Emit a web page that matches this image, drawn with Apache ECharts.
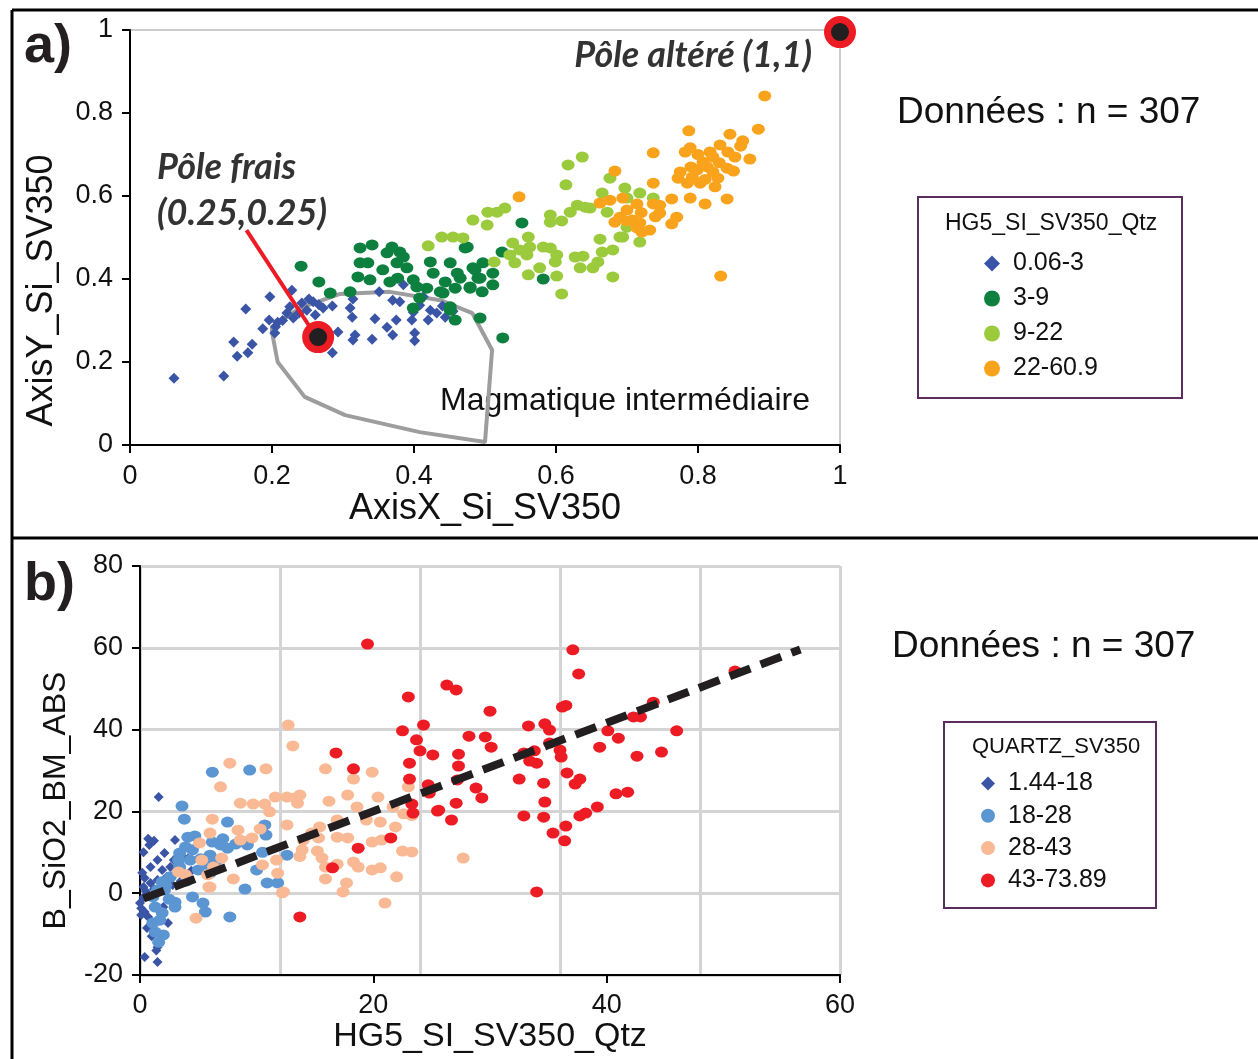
<!DOCTYPE html>
<html><head><meta charset="utf-8">
<script src="https://cdn.jsdelivr.net/npm/echarts@6/dist/echarts.min.js"></script>
<style>html,body{margin:0;padding:0;background:#fff}#c{width:1258px;height:1059px}</style>
</head><body><div id="c"></div>
<script>
// ---------- Panel a data (AxisX_Si_SV350, AxisY_Si_SV350) ----------
var aBlue = [[0.062,0.161],[0.132,0.166],[0.151,0.214],[0.166,0.222],[0.146,0.248],[0.172,0.243],[0.163,0.328],[0.197,0.357],[0.187,0.280],[0.196,0.301],[0.204,0.270],[0.208,0.296],[0.221,0.318],[0.228,0.373],[0.230,0.306],[0.242,0.342],[0.249,0.325],[0.258,0.345],[0.261,0.313],[0.272,0.330],[0.285,0.335],[0.293,0.272],[0.285,0.222],[0.310,0.330],[0.313,0.308],[0.314,0.352],[0.317,0.265],[0.314,0.253],[0.341,0.255],[0.345,0.304],[0.351,0.369],[0.362,0.284],[0.370,0.265],[0.375,0.301],[0.370,0.349],[0.385,0.386],[0.380,0.345],[0.399,0.320],[0.401,0.270],[0.401,0.251],[0.397,0.301],[0.408,0.337],[0.420,0.301],[0.423,0.325],[0.444,0.308],[0.413,0.357],[0.225,0.333],[0.238,0.318],[0.252,0.352],[0.266,0.338],[0.215,0.300],[0.205,0.285],[0.432,0.318],[0.455,0.322],[0.440,0.335]];
var aDarkGreen = [[0.241,0.431],[0.266,0.393],[0.282,0.366],[0.310,0.369],[0.321,0.405],[0.324,0.439],[0.335,0.439],[0.341,0.482],[0.338,0.398],[0.356,0.422],[0.362,0.463],[0.369,0.477],[0.376,0.439],[0.380,0.465],[0.385,0.453],[0.390,0.427],[0.377,0.402],[0.366,0.393],[0.399,0.398],[0.404,0.381],[0.418,0.378],[0.408,0.354],[0.399,0.330],[0.427,0.414],[0.423,0.441],[0.444,0.393],[0.451,0.439],[0.437,0.369],[0.451,0.333],[0.458,0.301],[0.458,0.378],[0.472,0.475],[0.479,0.381],[0.486,0.422],[0.493,0.402],[0.496,0.369],[0.497,0.439],[0.511,0.414],[0.511,0.386],[0.524,0.465],[0.493,0.306],[0.525,0.258],[0.465,0.402],[0.552,0.535],[0.475,0.477],[0.582,0.400],[0.461,0.414],[0.483,0.427],[0.490,0.402],[0.479,0.378],[0.441,0.366],[0.451,0.325],[0.324,0.475]];
var aLightGreen = [[0.637,0.694],[0.617,0.675],[0.614,0.627],[0.528,0.571],[0.504,0.561],[0.517,0.561],[0.483,0.542],[0.503,0.530],[0.439,0.501],[0.455,0.501],[0.469,0.499],[0.420,0.480],[0.513,0.441],[0.539,0.487],[0.561,0.501],[0.563,0.477],[0.549,0.470],[0.535,0.458],[0.542,0.439],[0.559,0.458],[0.582,0.477],[0.592,0.475],[0.601,0.458],[0.599,0.441],[0.577,0.427],[0.561,0.410],[0.601,0.407],[0.608,0.364],[0.627,0.453],[0.638,0.455],[0.634,0.427],[0.652,0.427],[0.659,0.441],[0.665,0.465],[0.680,0.470],[0.662,0.496],[0.680,0.405],[0.690,0.501],[0.592,0.554],[0.608,0.540],[0.620,0.561],[0.630,0.578],[0.641,0.573],[0.648,0.571],[0.665,0.607],[0.672,0.561],[0.676,0.643],[0.697,0.619],[0.700,0.595],[0.718,0.607],[0.737,0.595],[0.700,0.525],[0.718,0.489],[0.694,0.501],[0.592,0.537]];
var aOrange = [[0.894,0.841],[0.885,0.761],[0.787,0.757],[0.845,0.749],[0.863,0.733],[0.831,0.723],[0.789,0.716],[0.782,0.706],[0.737,0.704],[0.817,0.706],[0.821,0.694],[0.842,0.706],[0.852,0.694],[0.873,0.689],[0.807,0.682],[0.813,0.670],[0.841,0.667],[0.821,0.658],[0.799,0.663],[0.775,0.658],[0.772,0.643],[0.792,0.646],[0.785,0.631],[0.803,0.631],[0.824,0.622],[0.828,0.643],[0.737,0.631],[0.683,0.660],[0.789,0.595],[0.810,0.581],[0.841,0.593],[0.763,0.593],[0.770,0.549],[0.763,0.533],[0.737,0.581],[0.746,0.578],[0.746,0.559],[0.714,0.581],[0.694,0.595],[0.676,0.590],[0.662,0.583],[0.700,0.566],[0.690,0.549],[0.683,0.537],[0.708,0.542],[0.718,0.535],[0.714,0.523],[0.732,0.518],[0.721,0.513],[0.832,0.407],[0.548,0.598],[0.800,0.700],[0.830,0.680],[0.860,0.720],[0.810,0.640],[0.790,0.670],[0.850,0.660],[0.720,0.560],[0.740,0.550],[0.700,0.540]];
var aPoles = [[0.265,0.260],[1.0,0.995]];
var aArrow = [[0.164,0.518],[0.262,0.262]];
var aMagmaPolygon = [[0.200,0.272],[0.208,0.200],[0.246,0.116],[0.303,0.072],[0.408,0.031],[0.500,0.007],[0.510,0.229],[0.482,0.318],[0.437,0.349],[0.366,0.369],[0.296,0.364],[0.239,0.330],[0.200,0.285],[0.200,0.272]];
var aTicks = [0, 0.2, 0.4, 0.6, 0.8, 1];
var aLegendNames = ['0.06-3','3-9','9-22','22-60.9'];

// ---------- Panel b data (HG5_SI_SV350_Qtz, B_SiO2_BM_ABS) ----------
var bDarkBlue = [[1.6,23.5],[0.7,13.3],[0.8,11.8],[3.0,13.0],[2.1,9.8],[1.5,8.1],[0.9,6.4],[0.2,5.0],[1.9,5.7],[2.6,6.4],[2.9,8.1],[3.7,8.8],[4.1,8.5],[3.2,5.7],[0.4,3.7],[0.9,2.5],[0.3,1.5],[1.5,3.2],[2.3,4.0],[0.0,-2.4],[0.4,-4.6],[0.1,-5.3],[0.7,-5.8],[2.0,-3.4],[2.4,-7.3],[1.5,-13.2],[1.4,-14.0],[0.4,-15.6],[1.5,-16.8],[0.1,-3.7],[0.5,0.5],[1.2,1.0],[2.8,2.0],[3.5,3.0],[0.6,-8.5],[1.0,-10.5],[0.3,-1.0],[2.2,1.8],[4.4,5.5],[0.3,10.0],[1.2,12.8]];
var bBlue = [[6.2,29.6],[9.4,30.1],[3.6,21.3],[3.8,18.1],[7.5,17.4],[10.7,16.7],[10.8,14.2],[4.1,13.7],[4.7,14.0],[6.2,12.5],[7.1,13.3],[6.9,11.8],[7.5,11.0],[9.0,12.5],[9.2,11.8],[3.9,11.3],[4.5,10.6],[3.4,9.8],[3.3,8.1],[4.3,8.1],[5.2,8.4],[6.0,9.3],[6.6,8.1],[10.5,10.0],[12.6,9.3],[3.4,6.4],[2.6,4.0],[1.9,2.8],[2.1,0.8],[1.5,0.8],[1.1,-0.9],[1.3,-3.4],[1.9,-4.8],[1.7,-6.6],[1.1,-7.3],[1.3,-9.5],[2.0,-10.2],[3.0,-2.2],[3.0,-3.4],[4.5,-0.9],[5.4,-2.4],[5.6,-4.6],[7.7,-5.8],[9.0,1.0],[10.0,5.7],[10.9,2.5],[11.8,2.5],[6.0,4.9],[5.0,5.7],[5.7,7.2],[2.5,-1.5],[1.6,-12.0],[2.2,2.0],[4.0,3.0],[8.2,12.0]];
var bPeach = [[7.7,31.8],[6.9,26.0],[10.8,30.4],[12.7,41.1],[13.1,36.0],[8.6,22.0],[9.7,21.8],[10.7,21.8],[11.1,19.9],[11.6,23.5],[12.6,23.5],[13.3,23.3],[13.7,24.0],[13.5,22.0],[6.2,18.1],[8.4,15.4],[8.6,13.0],[6.0,14.7],[5.1,12.3],[9.6,13.5],[10.3,15.7],[12.6,16.7],[5.3,8.1],[7.0,8.6],[8.0,3.5],[5.9,1.5],[11.7,8.1],[11.8,4.9],[12.3,0.3],[15.9,30.4],[18.3,27.9],[17.8,24.0],[19.9,29.6],[20.4,23.5],[18.6,21.1],[16.2,22.5],[16.9,17.9],[15.4,16.2],[14.7,14.7],[15.3,13.5],[16.9,13.7],[17.8,13.5],[19.4,17.9],[20.6,17.4],[21.7,21.1],[22.6,19.4],[21.9,16.2],[19.9,12.5],[20.7,13.0],[15.2,10.3],[15.6,8.6],[15.9,6.4],[16.9,7.1],[18.3,7.6],[18.7,6.4],[19.9,5.7],[20.6,6.2],[22.5,10.3],[23.3,10.1],[22.0,4.0],[15.9,3.5],[17.7,2.5],[17.4,0.3],[13.9,10.6],[21.0,-2.4],[4.8,-6.1],[3.9,4.5],[6.3,6.4],[6.0,1.5],[5.8,4.5],[12.2,0.1],[3.3,5.2],[10.5,6.9],[14.0,13.0],[23.0,26.0],[23.3,19.0],[13.7,9.0],[27.7,8.6]];
var bRed = [[19.5,60.9],[23.0,48.0],[24.3,41.1],[22.5,39.7],[23.7,37.5],[24.0,34.8],[25.1,33.8],[23.1,31.8],[23.1,27.9],[16.8,34.3],[18.3,30.4],[23.3,21.8],[23.4,19.6],[25.5,20.1],[21.5,13.5],[18.7,11.0],[16.5,6.2],[37.1,59.5],[37.6,53.6],[26.3,50.9],[27.1,49.7],[30.0,44.5],[36.2,45.5],[36.5,45.9],[33.3,40.9],[34.7,41.4],[35.1,39.9],[28.2,38.4],[29.6,38.2],[30.1,35.7],[27.3,34.0],[27.3,31.1],[32.9,34.3],[33.8,34.8],[33.4,32.3],[34.0,31.8],[35.1,36.7],[36.0,35.0],[36.1,33.3],[40.1,39.7],[41.0,37.9],[39.4,35.7],[42.3,43.1],[42.9,43.1],[44.0,46.7],[46.0,39.7],[42.6,33.5],[44.7,34.5],[27.2,27.7],[28.8,25.7],[29.3,23.3],[24.8,24.5],[25.6,20.3],[27.1,22.0],[26.7,17.9],[32.5,27.9],[34.6,26.9],[36.6,29.4],[37.3,26.7],[37.7,27.9],[34.7,22.3],[32.9,18.9],[34.6,18.6],[35.4,14.7],[36.5,16.4],[36.4,12.8],[37.7,18.9],[38.2,19.6],[39.2,21.1],[40.8,24.3],[41.8,24.7],[34.0,0.3],[51.0,54.3],[13.7,-5.8],[24.7,26.5]];
var bTrend = [[0.3,-1.3],[56.6,59.6]];
var bXTicks = [0, 20, 40, 60];
var bYTicks = [-20, 0, 20, 40, 60, 80];
var bLegendNames = ['1.44-18','18-28','28-43','43-73.89'];

var SANS = 'Liberation Sans, Arial, sans-serif';
var ITAL = 'Lato, Open Sans, sans-serif';

function axisCommon(fs, nameFs, margin) {
  return {
    type: 'value',
    axisLine: { show: true, onZero: false, lineStyle: { color: '#000', width: 2 } },
    axisTick: { show: true, length: 8, lineStyle: { color: '#000', width: 2 } },
    axisLabel: { margin: margin, fontSize: fs, color: '#111', fontFamily: SANS },
    nameTextStyle: { fontSize: nameFs, color: '#111', fontFamily: SANS },
    nameLocation: 'middle'
  };
}

var chart = echarts.init(document.getElementById('c'), null, { renderer: 'canvas' });

var option = {
  animation: false,
  backgroundColor: '#fff',
  grid: [
    { left: 130, top: 30, width: 710, height: 415, show: true, borderColor: '#cccccc', borderWidth: 2 },
    { left: 140, top: 566, width: 700, height: 409 }
  ],
  xAxis: [
    Object.assign(axisCommon(27, 36, 18), { gridIndex: 0, min: aTicks[0], max: aTicks[aTicks.length-1], interval: 0.2, name: 'AxisX_Si_SV350', nameGap: 46, splitLine: { show: false } }),
    Object.assign(axisCommon(27, 34, 17), { gridIndex: 1, min: bXTicks[0], max: bXTicks[bXTicks.length-1], interval: 20, name: 'HG5_SI_SV350_Qtz', nameGap: 44, splitLine: { show: false } }),
    { gridIndex: 1, type: 'value', min: 0, max: 60, interval: 12, position: 'top', axisLine: { show: false }, axisTick: { show: false }, axisLabel: { show: false }, splitLine: { show: true, lineStyle: { color: '#d4d4d4', width: 3 } } }
  ],
  yAxis: [
    Object.assign(axisCommon(27, 36, 17), { gridIndex: 0, min: 0, max: 1, interval: 0.2, name: 'AxisY_Si_SV350', nameGap: 70, splitLine: { show: false } }),
    Object.assign(axisCommon(27, 32, 17), { gridIndex: 1, min: bYTicks[0], max: bYTicks[bYTicks.length-1], interval: 20, name: 'B_SiO2_BM_ABS', nameGap: 68, splitLine: { show: true, lineStyle: { color: '#d4d4d4', width: 3 } } })
  ],
  legend: [
    { orient: 'vertical', left: 984, top: 251, padding: 0, itemWidth: 16, itemHeight: 16, itemGap: 10, data: aLegendNames,
      textStyle: { fontSize: 25, color: '#111', fontFamily: SANS, padding: [0,0,0,8] }, selectedMode: false },
    { orient: 'vertical', left: 981, top: 771, padding: 0, itemWidth: 14, itemHeight: 14, itemGap: 7.3, data: bLegendNames,
      textStyle: { fontSize: 25, color: '#111', fontFamily: SANS, padding: [0,0,0,8] }, selectedMode: false }
  ],
  series: [
    { type: 'line', xAxisIndex: 0, yAxisIndex: 0, data: aMagmaPolygon, symbol: 'none', z: 1, silent: true,
      lineStyle: { color: '#9d9d9f', width: 4 } },
    { name: aLegendNames[0], type: 'scatter', xAxisIndex: 0, yAxisIndex: 0, data: aBlue, symbol: 'diamond', symbolSize: 11, itemStyle: { color: '#3b55a6', opacity: 1 }, z: 3 },
    { name: aLegendNames[1], type: 'scatter', xAxisIndex: 0, yAxisIndex: 0, data: aDarkGreen, symbol: 'circle', symbolSize: [13, 11], itemStyle: { color: '#0d8040', opacity: 1 }, z: 3 },
    { name: aLegendNames[2], type: 'scatter', xAxisIndex: 0, yAxisIndex: 0, data: aLightGreen, symbol: 'circle', symbolSize: [13, 11], itemStyle: { color: '#9bcb3d', opacity: 1 }, z: 3 },
    { name: aLegendNames[3], type: 'scatter', xAxisIndex: 0, yAxisIndex: 0, data: aOrange, symbol: 'circle', symbolSize: [13, 11], itemStyle: { color: '#f9a31c', opacity: 1 }, z: 3 },
    { type: 'line', xAxisIndex: 0, yAxisIndex: 0, data: aArrow, symbol: 'none', z: 5, silent: true,
      lineStyle: { color: '#ed1c24', width: 4 } },
    { type: 'scatter', xAxisIndex: 0, yAxisIndex: 0, data: aPoles, symbol: 'circle', symbolSize: 25, clip: false, z: 6, silent: true,
      itemStyle: { color: '#231f20', borderColor: '#ed1c24', borderWidth: 7, opacity: 1 } },

    { name: bLegendNames[0], type: 'scatter', xAxisIndex: 1, yAxisIndex: 1, data: bDarkBlue, symbol: 'diamond', symbolSize: 10, itemStyle: { color: '#3b55a6', opacity: 1 }, z: 3 },
    { name: bLegendNames[1], type: 'scatter', xAxisIndex: 1, yAxisIndex: 1, data: bBlue, symbol: 'circle', symbolSize: [13, 11], itemStyle: { color: '#5b96d3', opacity: 1 }, z: 3 },
    { name: bLegendNames[2], type: 'scatter', xAxisIndex: 1, yAxisIndex: 1, data: bPeach, symbol: 'circle', symbolSize: [13, 11], itemStyle: { color: '#f9b995', opacity: 1 }, z: 3 },
    { name: bLegendNames[3], type: 'scatter', xAxisIndex: 1, yAxisIndex: 1, data: bRed, symbol: 'circle', symbolSize: [13, 11], itemStyle: { color: '#ed1c24', opacity: 1 }, z: 3 },
    { type: 'line', xAxisIndex: 1, yAxisIndex: 1, data: bTrend, symbol: 'none', z: 5, silent: true,
      lineStyle: { color: '#231f20', width: 8, type: [22, 11] } }
  ],
  graphic: [
    { type: 'line', shape: { x1: 12, y1: 10, x2: 1258, y2: 10 }, style: { stroke: '#000', lineWidth: 3 } },
    { type: 'line', shape: { x1: 12, y1: 10, x2: 12, y2: 1059 }, style: { stroke: '#000', lineWidth: 3 } },
    { type: 'line', shape: { x1: 12, y1: 538, x2: 1258, y2: 538 }, style: { stroke: '#000', lineWidth: 3 } },
    { type: 'text', left: 24, top: 20, style: { text: 'a)', fontSize: 54, fontWeight: 'bold', fontFamily: SANS, fill: '#231f20' } },
    { type: 'text', left: 24, top: 558, style: { text: 'b)', fontSize: 54, fontWeight: 'bold', fontFamily: SANS, fill: '#231f20' } },
    { type: 'text', x: 157, y: 167, style: { text: 'Pôle frais', fontSize: 36, fontWeight: 'bold', fontStyle: 'italic', fontFamily: ITAL, fill: '#333', textVerticalAlign: 'middle' } },
    { type: 'text', x: 157, y: 213, style: { text: '(0.25,0.25)', fontSize: 36, fontWeight: 'bold', fontStyle: 'italic', fontFamily: ITAL, fill: '#333', textVerticalAlign: 'middle' } },
    { type: 'text', x: 812, y: 55, style: { text: 'Pôle altéré (1,1)', fontSize: 36, fontWeight: 'bold', fontStyle: 'italic', fontFamily: ITAL, fill: '#333', textAlign: 'right', textVerticalAlign: 'middle' } },
    { type: 'text', x: 440, y: 401, style: { text: 'Magmatique intermédiaire', fontSize: 32, fontFamily: SANS, fill: '#111', textVerticalAlign: 'middle' } },
    { type: 'text', x: 897, y: 113, style: { text: 'Données : n = 307', fontSize: 37, fontFamily: SANS, fill: '#111', textVerticalAlign: 'middle' } },
    { type: 'text', x: 892, y: 647, style: { text: 'Données : n = 307', fontSize: 37, fontFamily: SANS, fill: '#111', textVerticalAlign: 'middle' } },
    { type: 'rect', shape: { x: 918, y: 197, width: 264, height: 201 }, style: { fill: 'none', stroke: '#5b2c5e', lineWidth: 2 } },
    { type: 'text', x: 945, y: 224, style: { text: 'HG5_SI_SV350_Qtz', fontSize: 23, fontFamily: SANS, fill: '#111', textVerticalAlign: 'middle' } },
    { type: 'rect', shape: { x: 944, y: 722, width: 212, height: 186 }, style: { fill: 'none', stroke: '#5b2c5e', lineWidth: 2 } },
    { type: 'text', x: 972, y: 747, style: { text: 'QUARTZ_SV350', fontSize: 22, fontFamily: SANS, fill: '#111', textVerticalAlign: 'middle' } }
  ]
};
// shift rotated y-axis names downward to match the reference placement
option.yAxis[0].nameTextStyle.padding = [0, 106, 0, 0];
option.yAxis[1].nameTextStyle.padding = [0, 60, 0, 0];
chart.setOption(option);
</script></body></html>
